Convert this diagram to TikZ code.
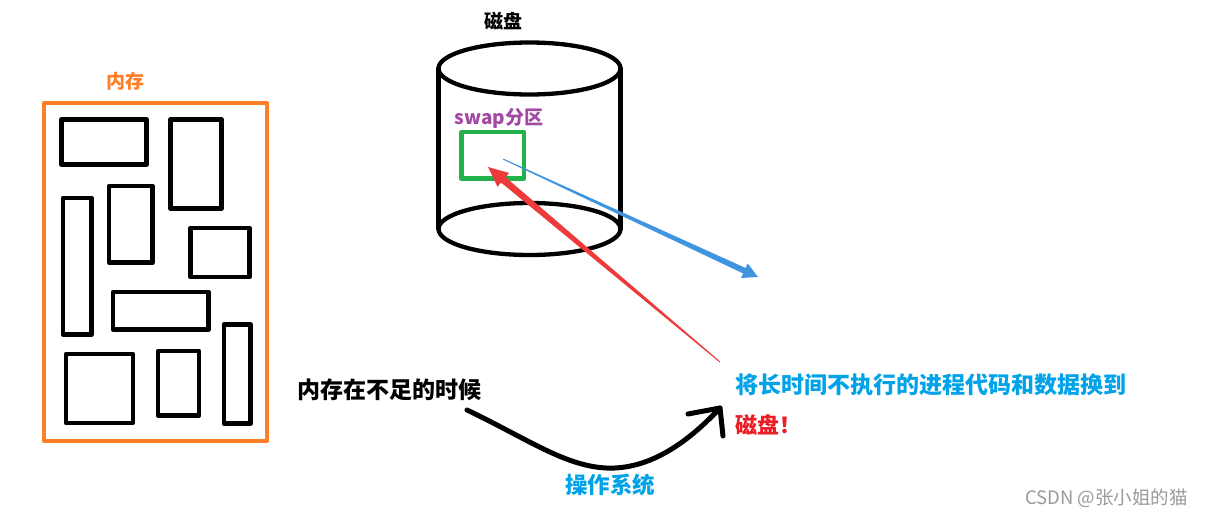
\documentclass[tikz,border=0pt]{standalone}
\usepackage{fontspec}
\newfontfamily\cjk{Noto Sans CJK SC}
\usetikzlibrary{calc}

\definecolor{memorange}{HTML}{FF7F27}
\definecolor{swapgreen}{HTML}{22B14C}
\definecolor{swappurple}{HTML}{A349A4}
\definecolor{textblue}{HTML}{00A2E8}
\definecolor{arrowblue}{HTML}{3F95E0}
\definecolor{arrowred}{HTML}{EE3A3A}
\definecolor{diskred}{HTML}{ED1C24}
\definecolor{markgray}{HTML}{9A9A9A}

\tikzset{
  cn/.style={inner sep=0pt, font=\cjk\bfseries\fontsize{#1}{#1}\selectfont},
  memframe/.style={draw=memorange, line width=4pt},
  block/.style={draw=black, line width=4.7pt},
  disk/.style={draw=black, line width=4.3pt},
  swapbox/.style={draw=swapgreen, line width=4.7pt, inner sep=0pt},
  osarrow/.style={draw=black, line width=5pt, line cap=round, line join=round}
}

\begin{document}
\begin{tikzpicture}[x=1pt, y=-1pt, line cap=round, line join=round]

\useasboundingbox (0,0) rectangle (1212,517);

% Memoria
\node[cn=19, text=memorange] (memlabel) at (125,81) {内存};
\draw[memframe] (44,103) rectangle (267,441);

% Blocchi in memoria
\draw[block] (61.5,119.5) rectangle (146.5,164.5);
\draw[block] (170.5,119.5) rectangle (221.5,208.5);
\draw[block] (63,198) rectangle (91.5,334.5);
\draw[block] (109,186) rectangle (152.5,262.5);
\draw[block] (190.5,228) rectangle (249.5,277);
\draw[block] (113,292) rectangle (208.5,329.5);
\draw[block] (66,354) rectangle (133,423);
\draw[block] (158,351) rectangle (199,415.5);
\draw[block] (224,324.5) rectangle (250.5,423.5);

% Disco (cilindro)
\node[cn=19] (disklabel) at (503,21) {磁盘};
\draw[disk] (529.5,68.5) ellipse [x radius=91pt, y radius=26pt];
\draw[disk] (529.5,229) ellipse [x radius=91pt, y radius=26pt];
\draw[disk] (438.5,68.5) -- (438.5,229);
\draw[disk] (620.5,68.5) -- (620.5,229);

% Partizione swap
\node[cn=19, text=swappurple] (swaplabel) at (499,118) {swap分区};
\node[swapbox, minimum width=62.5pt, minimum height=46.5pt] (swap) at (492.75,155.25) {};

% Freccia blu verso l'esterno
\coordinate (blueS) at (503,159);
\coordinate (blueE) at (758,277);
\coordinate (blueH) at ($(blueE)!15pt!(blueS)$);
\fill[arrowblue] ($(blueS)!0.5pt!90:(blueE)$) -- ($(blueH)!3pt!90:(blueE)$)
  -- ($(blueH)!8pt!90:(blueE)$) -- (blueE) -- ($(blueH)!8pt!-90:(blueE)$)
  -- ($(blueH)!3pt!-90:(blueE)$) -- ($(blueS)!0.5pt!-90:(blueE)$) -- cycle;

% Freccia rossa verso la swap
\coordinate (redS) at (720,362);
\coordinate (redE) at (488,167);
\coordinate (redH) at ($(redE)!20pt!(redS)$);
\fill[arrowred] ($(redS)!0.5pt!90:(redE)$) -- ($(redH)!3.5pt!90:(redE)$)
  -- ($(redH)!9pt!90:(redE)$) -- (redE) -- ($(redH)!9pt!-90:(redE)$)
  -- ($(redH)!3.5pt!-90:(redE)$) -- ($(redS)!0.5pt!-90:(redE)$) -- cycle;

% Testi
\node[cn=23, anchor=west] (shortage) at (297,390) {内存在不足的时候};
\node[cn=23, anchor=west, text=textblue] (swapout) at (735,385) {将长时间不执行的进程代码和数据换到};
\node[cn=22, anchor=west, text=diskred] (todisk) at (735,425) {磁盘！};
\node[cn=22.5, text=textblue] (os) at (610,485) {操作系统};

% Freccia curva del sistema operativo
\coordinate (curveS) at (467,410);
\coordinate (curveE) at (720,408);
\draw[osarrow] (curveS) .. controls (530,440) and (570,470) .. (615,468)
  .. controls (655,466) and (690,440) .. (curveE);
\draw[osarrow] (688,414) -- (curveE) -- (723,436);

% Firma
\node[inner sep=0pt, anchor=west, text=markgray, font=\cjk\fontsize{18.5}{18.5}\selectfont] (mark) at (1025,498) {CSDN @张小姐的猫};

\end{tikzpicture}
\end{document}
